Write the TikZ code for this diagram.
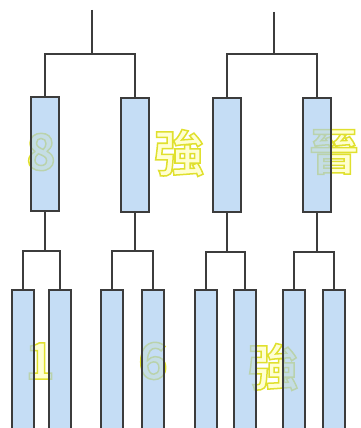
\documentclass[tikz,border=0pt]{standalone}
\usepackage{fontspec}
\newfontfamily\cjk[UprightFont=* Bold, FakeBold=3]{Noto Sans CJK TC}
\definecolor{linec}{HTML}{3C3C3C}
\definecolor{boxc}{HTML}{A6CCF1}
\newcommand{\wm}[1]{\special{pdf:bcolor [1 1 0.82] [0.88 0.88 0.18]}#1\special{pdf:ecolor}}
\tikzset{
  conn/.style={draw=linec, line width=2pt},
  bigbox/.style={draw=linec, line width=2pt, fill=boxc, fill opacity=0.65, draw opacity=1,
    minimum width=28pt, minimum height=114pt, inner sep=0pt},
  smallbox/.style={draw=linec, line width=2pt, fill=boxc, fill opacity=0.65, draw opacity=1,
    minimum width=22pt, minimum height=150pt, inner sep=0pt},
  wmtext/.style={inner sep=0pt, font=\cjk\fontsize{50}{60}\selectfont}
}
\begin{document}
\begin{tikzpicture}[x=1pt,y=-1pt]
\useasboundingbox (0,0) rectangle (360,428);
\clip (0,0) rectangle (360,428);
\fill[white] (0,0) rectangle (360,428);
% watermark texts (behind boxes)
\node[wmtext] (t8) at (41,152) {\wm{8}};
\node[wmtext] (tq1) at (179,153) {\wm{強}};
\node[wmtext] (tj) at (334,152) {\wm{晉}};
\node[wmtext] (t1) at (40,361) {\wm{1}};
\node[wmtext] (t6) at (153,361) {\wm{6}};
\node[wmtext] (tq2) at (273,367) {\wm{強}};
% upper boxes
\node[bigbox] (A) at (45,154) {};
\node[bigbox] (B) at (134.5,154.5) {};
\node[bigbox] (C) at (226.5,155) {};
\node[bigbox] (D) at (316.5,155) {};
% lower boxes
\node[smallbox] (a1) at (22.5,365) {};
\node[smallbox] (a2) at (59.5,365) {};
\node[smallbox] (b1) at (112,365) {};
\node[smallbox] (b2) at (152.5,365) {};
\node[smallbox] (c1) at (205.5,365) {};
\node[smallbox] (c2) at (245,365) {};
\node[smallbox] (d1) at (294,365) {};
\node[smallbox] (d2) at (334,365) {};
% junction coordinates
\coordinate (rL) at (92,10);
\coordinate (jL) at (92,54);
\coordinate (rR) at (274,12);
\coordinate (jR) at (274,54);
\coordinate (jA) at (45,251);
\coordinate (jB) at (134.5,251);
\coordinate (jC) at (226.5,252);
\coordinate (jD) at (316.5,252);
% connectors
\draw[conn] (rL) -- (jL);
\draw[conn] (A.north) |- (jL) -| (B.north);
\draw[conn] (rR) -- (jR);
\draw[conn] (C.north) |- (jR) -| (D.north);
\draw[conn] (A.south) -- (jA);
\draw[conn] (a1.north) |- (jA) -| (a2.north);
\draw[conn] (B.south) -- (jB);
\draw[conn] (b1.north) |- (jB) -| (b2.north);
\draw[conn] (C.south) -- (jC);
\draw[conn] (c1.north) |- (jC) -| (c2.north);
\draw[conn] (D.south) -- (jD);
\draw[conn] (d1.north) |- (jD) -| (d2.north);
\end{tikzpicture}
\end{document}
